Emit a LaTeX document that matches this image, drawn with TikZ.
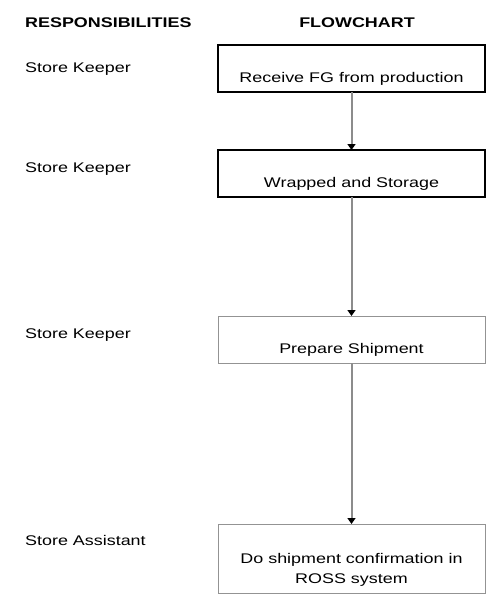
\documentclass[tikz,border=0pt]{standalone}
\usepackage{fontspec}
\setmainfont{Liberation Sans}
\usepackage{graphicx}
\usetikzlibrary{arrows.meta}

\newcommand{\wide}[1]{\scalebox{1.28}[1]{#1}}

\tikzset{
  box/.style={draw=black, line width=1.2pt, fill=white, minimum width=267pt, minimum height=47pt, inner sep=0pt, outer sep=0pt},
  lightbox/.style={box, draw=gray!85, line width=0.8pt},
  boxtext/.style={anchor=base, inner sep=0pt, align=center, font=\fontsize{14}{20}\selectfont},
  who/.style={anchor=base west, inner sep=0pt, font=\fontsize{14}{20}\selectfont},
  head/.style={inner sep=0pt, font=\fontsize{14}{20}\selectfont\bfseries},
  flow/.style={draw=gray!90, line width=2pt, -{Triangle[width=8pt,length=6pt,color=black]}}
}

\begin{document}
\begin{tikzpicture}[x=1pt, y=-1pt]
    \useasboundingbox (0,0) rectangle (502,611);

    % column headings
    \node[head, anchor=base west] (resp) at (25,27) {\wide{RESPONSIBILITIES}};
    \node[head, anchor=base] (chart) at (357,27) {\wide{FLOWCHART}};

    % who does what
    \node[who] (who1) at (25,72) {\wide{Store Keeper}};
    \node[who] (who2) at (25,172) {\wide{Store Keeper}};
    \node[who] (who3) at (25,338) {\wide{Store Keeper}};
    \node[who] (who4) at (25,545) {\wide{Store Assistant}};

    % flowchart boxes
    \node[box] (recv) at (351.5,68.5) {};
    \node[box] (wrap) at (351.5,173.5) {};
    \node[lightbox] (prep) at (351.5,339.5) {};
    \node[lightbox, minimum height=69pt] (conf) at (351.5,558.5) {};

    \node[boxtext] (recv-t) at ([yshift=10pt]recv.south) {\wide{Receive FG from production}};
    \node[boxtext] (wrap-t) at ([yshift=10pt]wrap.south) {\wide{Wrapped and Storage}};
    \node[boxtext] (prep-t) at ([yshift=10pt]prep.south) {\wide{Prepare Shipment}};
    \node[boxtext] (conf-t) at ([yshift=10pt]conf.south) {\wide{Do shipment confirmation in}\\\wide{ROSS system}};

    % arrows
    \draw[flow] (recv) -- (wrap);
    \draw[flow] (wrap) -- (prep);
    \draw[flow] (prep) -- (conf);

\end{tikzpicture}
\end{document}
